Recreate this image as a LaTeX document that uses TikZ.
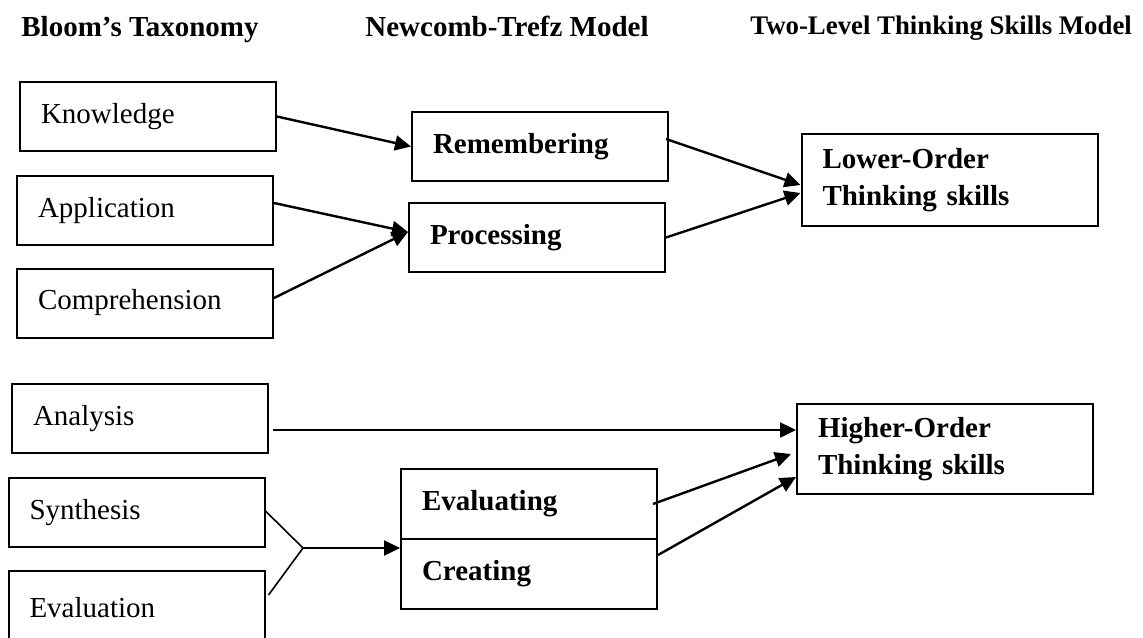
\documentclass[tikz,border=0pt]{standalone}
\usepackage{fontspec}
\setmainfont{Liberation Serif}
\usetikzlibrary{arrows.meta, positioning}

\begin{document}
\begin{tikzpicture}[
    x=0.5pt, y=-0.5pt,
    level/.style={rectangle, draw, line width=1pt, minimum width=128pt, minimum height=34.5pt,
        inner xsep=10.5pt, text width=107pt, align=left, font=\fontsize{14.5}{18.5}\selectfont},
    bloom/.style={level},
    newcomb/.style={level, font=\fontsize{14.5}{18.5}\selectfont\bfseries},
    twolevel/.style={level, minimum width=148pt, text width=127pt, minimum height=46pt,
        font=\fontsize{14.5}{18.5}\selectfont\bfseries},
    heading/.style={anchor=base west, inner sep=0pt, font=\fontsize{14.5}{17}\selectfont\bfseries},
    message/.style={-{Triangle[length=8pt,width=7.5pt]}, line width=1.2pt},
    joint/.style={line width=0.8pt}
]
\clip (0,0) rectangle (1143,637);
\useasboundingbox (0,0) rectangle (1143,637);

% Headings
\node[heading] (hbloom) at (21,36) {Bloom’s Taxonomy};
\node[heading] (hnewcomb) at (365,36) {Newcomb-Trefz Model};
\node[heading, font=\fontsize{13.4}{16}\selectfont\bfseries] (htwo) at (750,34) {Two-Level Thinking Skills Model};

% Bloom's levels
\node[bloom] (know) at (148,116.5) {Knowledge};
\node[bloom] (appl) at (145,210.5) {Application};
\node[bloom] (comp) at (145,303) {Comprehension};
\node[bloom] (anal) at (140,418.5) {Analysis};
\node[bloom] (synth) at (136.5,512.5) {Synthesis};
\node[bloom, minimum height=37pt] (evaln) at (136.5,608) {Evaluation};

% Newcomb-Trefz levels
\node[newcomb] (remem) at (540,146.5) {Remembering};
\node[newcomb] (proc) at (537,237.5) {Processing};
\node[newcomb, minimum height=35pt] (evalg) at (529,504) {Evaluating};
\node[newcomb, minimum height=35pt] (creat) [below=-1pt of evalg] {Creating};

% Two-level model
\node[twolevel] (lower) at (949.5,180) {Lower-Order\\Thinking skills};
\node[twolevel, minimum height=45pt] (higher) at (945,449) {Higher-Order\\Thinking skills};

% Messages: Bloom -> Newcomb-Trefz
\draw[message] (know.east) -- (remem.west);
\draw[message] ([yshift=3.75pt]appl.east) -- ([yshift=2.75pt]proc.west);
\draw[message] ([yshift=2.5pt]comp.east) -- ([yshift=2.75pt]proc.west);

% Messages: Newcomb-Trefz -> two-level
\draw[message] ([xshift=-1.5pt,yshift=3.75pt]remem.east) -- ([yshift=-2.5pt]lower.west);
\draw[message] (proc.east) -- ([yshift=-6.5pt]lower.west);
\draw[message] ([xshift=2pt,yshift=-5.75pt]anal.east) -- ([yshift=9.5pt]higher.west);
\draw[message] ([xshift=-2.5pt]evalg.east) -- ([xshift=-2.5pt,yshift=-2.5pt]higher.west);
\draw[message] ([yshift=9.5pt]creat.east) -- ([yshift=-14pt]higher.west);

% Synthesis + Evaluation joined
\coordinate (join) at (303,548);
\draw[joint] ([yshift=0.75pt]synth.east) -- (join);
\draw[joint] ([xshift=1.5pt,yshift=6.5pt]evaln.east) -- (join);
\draw[message] (join) -- ([yshift=13pt]creat.west);

\end{tikzpicture}
\end{document}
